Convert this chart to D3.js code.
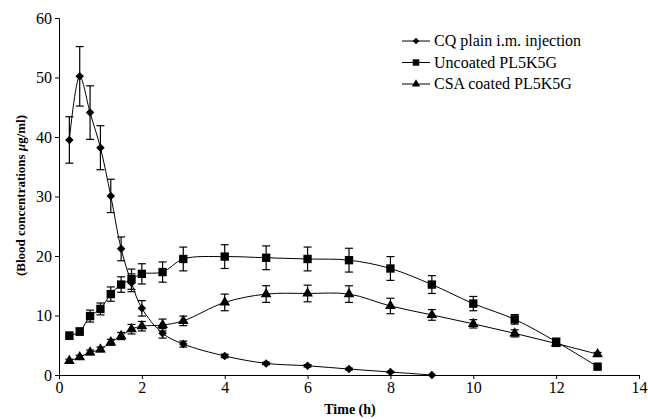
<!DOCTYPE html>
<html>
<head>
<meta charset="utf-8">
<script src="https://cdn.jsdelivr.net/npm/d3@7"></script>
<style>
  body { margin: 0; background: #fff; }
  svg text { font-family: "Liberation Serif", "Times New Roman", serif; fill: #000; }
</style>
</head>
<body>
<svg id="svg" width="648" height="419"></svg>
<script>
// time points (h)
var timeCQ = [0.25, 0.5, 0.75, 1, 1.25, 1.5, 1.75, 2, 2.5, 3, 4, 5, 6, 7, 8, 9];
var timeNP = [0.25, 0.5, 0.75, 1, 1.25, 1.5, 1.75, 2, 2.5, 3, 4, 5, 6, 7, 8, 9, 10, 11, 12, 13];

// CQ plain i.m. injection
var cqMean = [39.5, 50.2, 44.1, 38.2, 30.1, 21.2, 15.5, 11.2, 7.0, 5.2, 3.2, 1.95, 1.55, 1.0, 0.5, 0.0];
var cqErr  = [3.9, 5.0, 4.5, 3.7, 2.8, 2.0, 1.5, 1.3, 0.8, 0.5, 0.3, 0.2, 0.2, 0.15, 0.1, 0.0];

// Uncoated PL5K5G
var unMean = [6.6, 7.3, 9.9, 11.1, 13.6, 15.2, 16.1, 17.0, 17.3, 19.5, 19.9, 19.7, 19.5, 19.3, 17.9, 15.2, 12.0, 9.35, 5.6, 1.4];
var unErr  = [0.6, 0.6, 1.0, 1.0, 1.2, 1.3, 1.7, 1.7, 1.7, 2.0, 2.0, 2.0, 2.0, 2.0, 2.0, 1.5, 1.2, 0.8, 0.5, 0.3];

// CSA coated PL5K5G
var csaMean = [2.35, 3.0, 3.8, 4.3, 5.5, 6.55, 7.7, 8.2, 8.4, 9.1, 12.2, 13.6, 13.7, 13.6, 11.6, 10.1, 8.6, 7.0, 5.3, 3.5];
var csaErr  = [0.3, 0.3, 0.4, 0.4, 0.5, 0.6, 0.8, 0.8, 1.0, 0.8, 1.4, 1.4, 1.4, 1.4, 1.3, 0.9, 0.7, 0.6, 0.5, 0.3];

var xTicks = [0, 2, 4, 6, 8, 10, 12, 14];
var yTicks = [0, 10, 20, 30, 40, 50, 60];
var seriesNames = ["CQ plain i.m. injection", "Uncoated PL5K5G", "CSA coated PL5K5G"];

var svg = d3.select("#svg");
var margin = {left: 59, top: 18, right: 9, bottom: 44};
var width = 648, height = 419;

var x = d3.scaleLinear().domain([0, 14]).range([margin.left, width - margin.right]);
var y = d3.scaleLinear().domain([0, 60]).range([height - margin.bottom, margin.top]);

// axes
svg.append("g")
    .attr("transform", "translate(0," + y(0) + ")")
    .call(d3.axisBottom(x).tickValues(xTicks).tickSize(4).tickPadding(3))
    .call(function(g) { g.selectAll("text").style("font-size", "16px"); });

svg.append("g")
    .attr("transform", "translate(" + x(0) + ",0)")
    .call(d3.axisLeft(y).tickValues(yTicks).tickSize(4).tickPadding(3))
    .call(function(g) { g.selectAll("text").style("font-size", "16px"); });

svg.selectAll(".domain, .tick line").attr("stroke", "#000").attr("stroke-width", 1);

// axis titles
svg.append("text")
    .attr("x", 350)
    .attr("y", 414)
    .attr("text-anchor", "middle")
    .style("font-size", "14px")
    .style("font-weight", "bold")
    .text("Time (h)");

svg.append("text")
    .attr("transform", "translate(25," + (y(30) - 1) + ") rotate(-90)")
    .attr("text-anchor", "middle")
    .style("font-size", "13px")
    .style("font-weight", "bold")
    .html("(Blood concentrations <tspan font-style='italic'>μ</tspan>g/ml)");

// square diamond (rotated square), like the original marker
var diamond = {
    draw: function(ctx, size) {
        var r = Math.sqrt(size / 2);
        ctx.moveTo(0, -r); ctx.lineTo(r, 0); ctx.lineTo(0, r); ctx.lineTo(-r, 0); ctx.closePath();
    }
};

var series = [
    {name: seriesNames[0], t: timeCQ, m: cqMean, e: cqErr, shape: diamond, size: 36},
    {name: seriesNames[1], t: timeNP, m: unMean, e: unErr, shape: d3.symbolSquare, size: 70},
    {name: seriesNames[2], t: timeNP, m: csaMean, e: csaErr, shape: d3.symbolTriangle, size: 50}
];

var line = d3.line()
    .x(function(d) { return x(d[0]); })
    .y(function(d) { return y(d[1]); })
    .curve(d3.curveCatmullRom.alpha(0.5));

series.forEach(function(s) {
    var pts = s.t.map(function(t, i) { return [t, s.m[i], s.e[i]]; });
    var g = svg.append("g");

    g.append("path")
        .attr("d", line(pts))
        .attr("fill", "none")
        .attr("stroke", "#000")
        .attr("stroke-width", 1);

    // error bars
    var eb = g.selectAll(".eb").data(pts.filter(function(d) { return d[2] > 0; }))
        .enter().append("g");
    eb.append("line")
        .attr("x1", function(d) { return x(d[0]); })
        .attr("x2", function(d) { return x(d[0]); })
        .attr("y1", function(d) { return y(d[1] - d[2]); })
        .attr("y2", function(d) { return y(d[1] + d[2]); })
        .attr("stroke", "#000").attr("stroke-width", 1.2);
    [-1, 1].forEach(function(sgn) {
        eb.append("line")
            .attr("x1", function(d) { return x(d[0]) - 4; })
            .attr("x2", function(d) { return x(d[0]) + 4; })
            .attr("y1", function(d) { return y(d[1] + sgn * d[2]); })
            .attr("y2", function(d) { return y(d[1] + sgn * d[2]); })
            .attr("stroke", "#000").attr("stroke-width", 1.2);
    });

    g.selectAll(".pt").data(pts).enter().append("path")
        .attr("transform", function(d) { return "translate(" + x(d[0]) + "," + y(d[1]) + ")"; })
        .attr("d", d3.symbol().type(s.shape).size(s.size))
        .attr("fill", "#000");
});

// legend
var legend = svg.append("g");
series.forEach(function(s, i) {
    var ly = 41 + i * 21.5;
    legend.append("line")
        .attr("x1", 402).attr("x2", 430)
        .attr("y1", ly).attr("y2", ly)
        .attr("stroke", "#000").attr("stroke-width", 1);
    legend.append("path")
        .attr("transform", "translate(416," + ly + ")")
        .attr("d", d3.symbol().type(s.shape).size(s.size * 0.6))
        .attr("fill", "#000");
    legend.append("text")
        .attr("x", 434).attr("y", ly + 5)
        .style("font-size", "16px")
        .text(s.name);
});
</script>
</body>
</html>
